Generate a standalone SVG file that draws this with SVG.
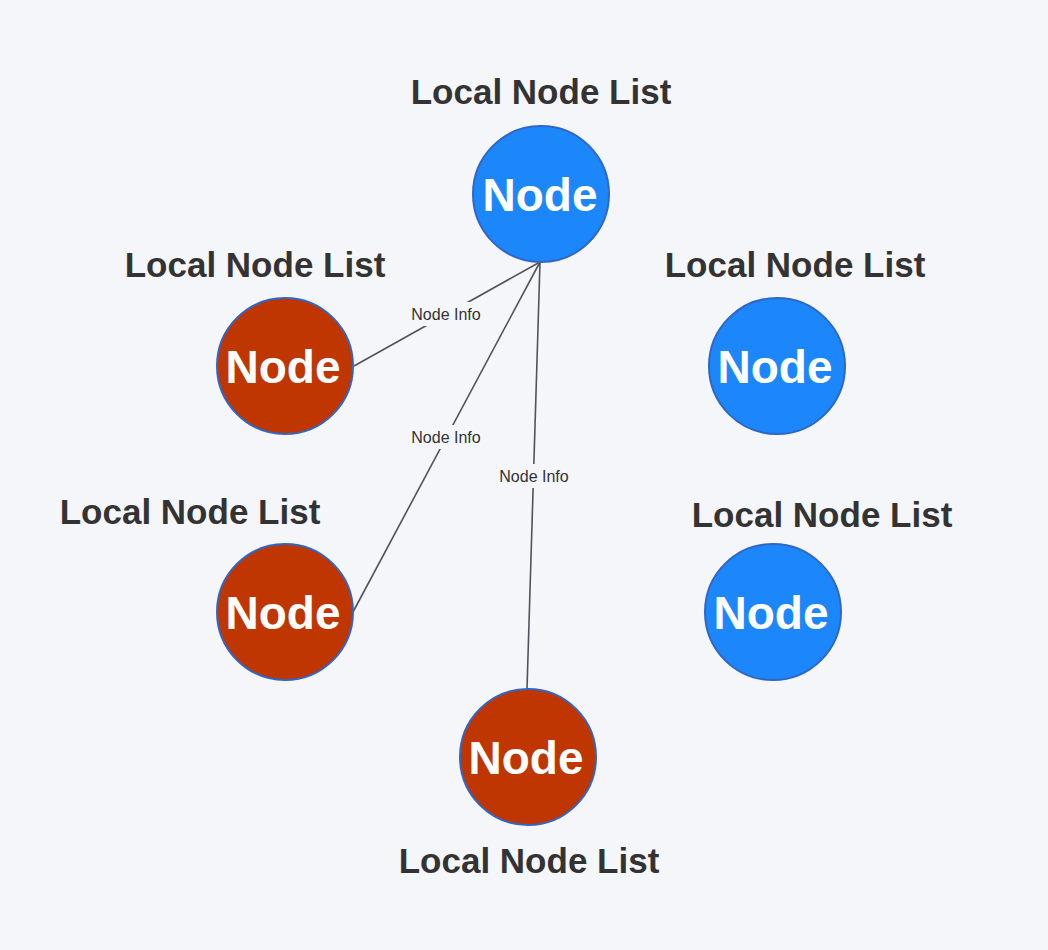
<svg xmlns="http://www.w3.org/2000/svg" width="1048" height="950" viewBox="0 0 1048 950">
<style>
.bg{fill:#f5f6fa}
.blue{fill:#1b87fb;stroke:#2f66c8;stroke-width:2}
.red{fill:#bf3600;stroke:#2f66c8;stroke-width:2}
.nt{font-family:"Liberation Sans",Arial,sans-serif;font-weight:bold;font-size:46px;fill:#ffffff;text-anchor:middle;dominant-baseline:central}
.lt{font-family:"Liberation Sans",Arial,sans-serif;font-weight:bold;font-size:35px;fill:#333333;text-anchor:middle;dominant-baseline:central}
.edge{stroke:#4f545c;stroke-width:1.6;fill:none}
.el{font-family:"Liberation Sans",Arial,sans-serif;font-size:16px;fill:#333333;text-anchor:middle;dominant-baseline:central}
.elb{fill:#f5f6fa}
</style>
<rect class="bg" x="0" y="0" width="1048" height="950"/>
<g id="connectors">
<line class="edge" x1="354" y1="366" x2="540" y2="262"/>
<line class="edge" x1="353" y1="612" x2="540" y2="262"/>
<line class="edge" x1="527" y1="689" x2="540" y2="262"/>
<rect class="elb" x="404" y="302" width="84" height="24"/>
<text class="el" x="446" y="314">Node Info</text>
<rect class="elb" x="404" y="425" width="84" height="24"/>
<text class="el" x="446" y="437">Node Info</text>
<rect class="elb" x="492" y="464" width="84" height="24"/>
<text class="el" x="534" y="476">Node Info</text>
</g>
<g id="node-top">
<circle class="blue" cx="541" cy="194" r="68"/>
<text class="nt" x="540" y="195">Node</text>
<text class="lt" x="541" y="91">Local Node List</text>
</g>
<g id="node-left-top">
<circle class="red" cx="285" cy="366" r="68"/>
<text class="nt" x="283" y="367">Node</text>
<text class="lt" x="255" y="264">Local Node List</text>
</g>
<g id="node-right-top">
<circle class="blue" cx="777" cy="366" r="68"/>
<text class="nt" x="775" y="367">Node</text>
<text class="lt" x="795" y="264">Local Node List</text>
</g>
<g id="node-left-bottom">
<circle class="red" cx="285" cy="612" r="68"/>
<text class="nt" x="283" y="613">Node</text>
<text class="lt" x="190" y="511">Local Node List</text>
</g>
<g id="node-right-bottom">
<circle class="blue" cx="773" cy="612" r="68"/>
<text class="nt" x="771" y="613">Node</text>
<text class="lt" x="822" y="514">Local Node List</text>
</g>
<g id="node-bottom">
<circle class="red" cx="528" cy="757" r="68"/>
<text class="nt" x="526" y="758">Node</text>
<text class="lt" x="529" y="860">Local Node List</text>
</g>
</svg>
